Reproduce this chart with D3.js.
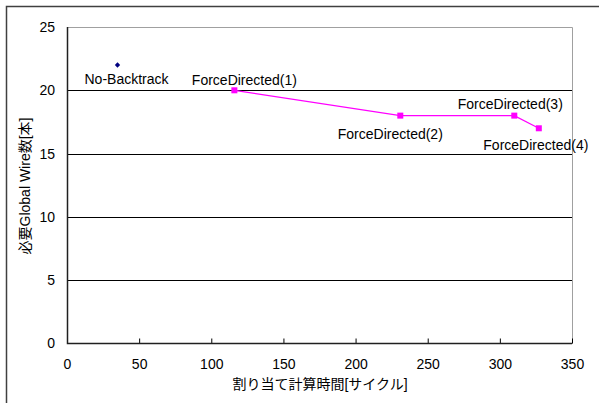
<!DOCTYPE html>
<html>
<head>
<meta charset="utf-8">
<script src="https://cdn.jsdelivr.net/npm/d3@7"></script>
<style>
  html, body { margin: 0; padding: 0; background: #fff; }
  svg { display: block; }
  text { font-family: "Liberation Sans", Arial, "Noto Sans CJK JP", sans-serif; fill: #000; }
</style>
</head>
<body>
<svg id="chart" width="599" height="403"></svg>
<script>
// ---- data ----
const xTicks = [0, 50, 100, 150, 200, 250, 300, 350];
const yTicks = [0, 5, 10, 15, 20, 25];
const noBacktrackX = [35];
const noBacktrackY = [22];
const noBacktrackLabels = ["No-Backtrack"];
const forceX = [116, 231, 310, 327];
const forceY = [20, 18, 18, 17];
const forceLabels = ["ForceDirected(1)", "ForceDirected(2)", "ForceDirected(3)", "ForceDirected(4)"];
const xTitle = "割り当て計算時間[サイクル]";
const yTitle = "必要Global Wire数[本]";

// ---- layout (label offsets in px relative to point) ----
const nbLabelOffset = [[9, 14]];
const fdLabelOffset = [[10, -10], [-10, 18], [-4, -12], [-3, 17]];

const svg = d3.select("#chart");
const L = 67, R = 572, T = 27, B = 343.5;

const x = d3.scaleLinear().domain([0, 350]).range([L, R]);
const y = d3.scaleLinear().domain([0, 25]).range([B, T]);

// outer border
svg.append("rect").attr("x", 6.5).attr("y", 6.5).attr("width", 620).attr("height", 420)
  .attr("fill", "none").attr("stroke", "#404040").attr("stroke-width", 1.5);

// gridlines
svg.append("g").selectAll("line").data(yTicks.filter(d => d > 0 && d < 25)).join("line")
  .attr("x1", L).attr("x2", R)
  .attr("y1", d => Math.round(y(d)) + 0.5).attr("y2", d => Math.round(y(d)) + 0.5)
  .attr("stroke", "#000").attr("stroke-width", 1);

// plot border top/right (gray)
svg.append("path")
  .attr("d", `M${L},${T + 0.5}H${R + 0.5}V${B}`)
  .attr("fill", "none").attr("stroke", "#a0a0a0").attr("stroke-width", 1);

// x axis
const xAxis = svg.append("g").attr("transform", `translate(0,${B})`)
  .call(d3.axisBottom(x).tickValues(xTicks).tickSizeInner(-5).tickSizeOuter(0).tickPadding(16));
xAxis.select(".domain").remove();
xAxis.selectAll(".tick line").attr("stroke", "#000");
xAxis.selectAll("text").style("font-size", "14px").attr("fill", "#000");

// y axis
const yAxis = svg.append("g").attr("transform", `translate(${L},0)`)
  .call(d3.axisLeft(y).tickValues(yTicks).tickSize(0).tickPadding(12));
yAxis.select(".domain").remove();
yAxis.selectAll("text").style("font-size", "14px").attr("fill", "#000");

// axis lines
svg.append("path").attr("d", `M${L + 0.5},${T}V${B}H${R}`)
  .attr("fill", "none").attr("stroke", "#202020").attr("stroke-width", 1.5);

// Force directed line
const fd = forceX.map((d, i) => ({ x: d, y: forceY[i], label: forceLabels[i], off: fdLabelOffset[i] }));
svg.append("path").datum(fd)
  .attr("d", d3.line().x(d => x(d.x)).y(d => y(d.y)))
  .attr("fill", "none").attr("stroke", "#ff00ff").attr("stroke-width", 1.2);
svg.append("g").selectAll("rect").data(fd).join("rect")
  .attr("x", d => x(d.x) - 3).attr("y", d => y(d.y) - 3)
  .attr("width", 6).attr("height", 6).attr("fill", "#ff00ff");

// No-Backtrack
const nb = noBacktrackX.map((d, i) => ({ x: d, y: noBacktrackY[i], label: noBacktrackLabels[i], off: nbLabelOffset[i] }));
svg.append("g").selectAll("path").data(nb).join("path")
  .attr("d", d3.symbol().type(d3.symbolSquare).size(14))
  .attr("transform", d => `translate(${x(d.x)},${y(d.y)}) rotate(45)`)
  .attr("fill", "#000080");

// data labels
svg.append("g").selectAll("text").data(nb.concat(fd)).join("text")
  .attr("x", d => x(d.x) + d.off[0]).attr("y", d => y(d.y) + d.off[1])
  .attr("dy", "0.35em").attr("text-anchor", "middle")
  .style("font-size", "14px").text(d => d.label);

// axis titles
svg.append("text").attr("x", 320).attr("y", 384).attr("dy", "0.35em")
  .attr("text-anchor", "middle").style("font-size", "14px").text(xTitle);
svg.append("text").attr("transform", "translate(25,186) rotate(-90)").attr("dy", "0.35em")
  .attr("text-anchor", "middle").style("font-size", "14px").text(yTitle);
</script>
</body>
</html>
